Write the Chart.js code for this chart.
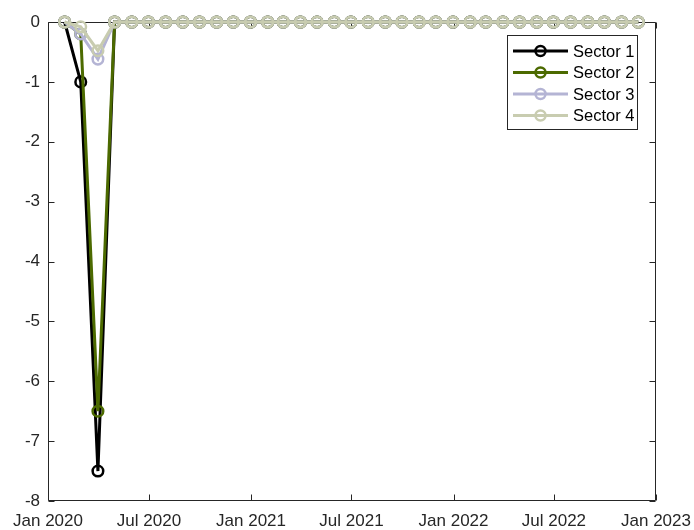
<!DOCTYPE html>
<html>
<head>
<meta charset="utf-8">
<script src="https://cdn.jsdelivr.net/npm/chart.js@4.4.1/dist/chart.umd.min.js"></script>
<style>
html,body{margin:0;padding:0;background:#fff;}
#c{display:block;}
</style>
</head>
<body>
<canvas id="c" width="694" height="530"></canvas>
<script>
const dates = ["2020-01-31","2020-02-29","2020-03-31","2020-04-30","2020-05-31","2020-06-30","2020-07-31","2020-08-31","2020-09-30","2020-10-31","2020-11-30","2020-12-31",
"2021-01-31","2021-02-28","2021-03-31","2021-04-30","2021-05-31","2021-06-30","2021-07-31","2021-08-31","2021-09-30","2021-10-31","2021-11-30","2021-12-31",
"2022-01-31","2022-02-28","2022-03-31","2022-04-30","2022-05-31","2022-06-30","2022-07-31","2022-08-31","2022-09-30","2022-10-31","2022-11-30"];
const sector1 = [0,-1,-7.5,0,0,0,0,0,0,0,0,0,0,0,0,0,0,0,0,0,0,0,0,0,0,0,0,0,0,0,0,0,0,0,0];
const sector2 = [0,-0.2,-6.5,0,0,0,0,0,0,0,0,0,0,0,0,0,0,0,0,0,0,0,0,0,0,0,0,0,0,0,0,0,0,0,0];
const sector3 = [0,-0.2,-0.62,0,0,0,0,0,0,0,0,0,0,0,0,0,0,0,0,0,0,0,0,0,0,0,0,0,0,0,0,0,0,0,0];
const sector4 = [0,-0.08,-0.48,0,0,0,0,0,0,0,0,0,0,0,0,0,0,0,0,0,0,0,0,0,0,0,0,0,0,0,0,0,0,0,0];
const seriesNames = ["Sector 1","Sector 2","Sector 3","Sector 4"];
const seriesColors = ["#000000","#4c6a00","#b4b4d4","#c8ccb0"];
const tickDates = ["2020-01-01","2020-07-01","2021-01-01","2021-07-01","2022-01-01","2022-07-01","2023-01-01"];
const tickLabels = ["Jan 2020","Jul 2020","Jan 2021","Jul 2021","Jan 2022","Jul 2022","Jan 2023"];
const yTicks = [-8,-7,-6,-5,-4,-3,-2,-1,0];

const DAY = 86400000, BASE = Date.UTC(2020,0,1);
function dayOf(s){ const p = s.split('-').map(Number); return (Date.UTC(p[0],p[1]-1,p[2]) - BASE)/DAY; }
const tickDays = tickDates.map(dayOf);

const allSeries = [sector1, sector2, sector3, sector4];
const datasets = allSeries.map((vals, k) => ({
  label: seriesNames[k],
  data: dates.map((d, i) => ({x: dayOf(d), y: vals[i]})),
  borderColor: seriesColors[k],
  pointBorderColor: seriesColors[k],
  pointBackgroundColor: 'rgba(0,0,0,0)',
  borderWidth: 3,
  pointRadius: 5.3,
  pointBorderWidth: 2.5,
  pointHoverRadius: 5.3,
  tension: 0,
  clip: false,
  order: 3 - k
}));

const AX = '#262626';
const FONT = {family: '"Liberation Sans", Arial, sans-serif', size: 17};

const boxPlugin = {
  id: 'box',
  beforeDatasetsDraw(chart) {
    const {ctx, chartArea: a, scales} = chart;
    ctx.save();
    ctx.strokeStyle = AX;
    ctx.lineWidth = 1;
    const L = Math.round(a.left)+0.5, R = Math.round(a.right)-0.5, T = Math.round(a.top)+0.5, B = Math.round(a.bottom)-0.5;
    ctx.beginPath();
    ctx.rect(L, T, R-L, B-T);
    const tl = 6;
    tickDays.forEach(v => {
      const x = Math.round(scales.x.getPixelForValue(v))+0.5;
      ctx.moveTo(x, B); ctx.lineTo(x, B-tl);
      ctx.moveTo(x, T); ctx.lineTo(x, T+tl);
    });
    yTicks.forEach(v => {
      const y = Math.round(scales.y.getPixelForValue(v))+0.5;
      ctx.moveTo(L, y); ctx.lineTo(L+tl, y);
      ctx.moveTo(R, y); ctx.lineTo(R-tl, y);
    });
    ctx.stroke();
    ctx.restore();
  }
};

const legendPlugin = {
  id: 'mlegend',
  afterDatasetsDraw(chart) {
    const ctx = chart.ctx;
    const x0 = 507, y0 = 35, w = 131, h = 95;
    ctx.save();
    ctx.fillStyle = '#fff';
    ctx.fillRect(x0, y0, w, h);
    ctx.strokeStyle = AX;
    ctx.lineWidth = 1;
    ctx.strokeRect(x0+0.5, y0+0.5, w-1, h-1);
    ctx.font = '16.5px "Liberation Sans", Arial, sans-serif';
    ctx.textBaseline = 'middle';
    ctx.textAlign = 'left';
    seriesNames.forEach((name, k) => {
      const y = y0 + 16 + k*21.5;
      ctx.strokeStyle = seriesColors[k];
      ctx.lineWidth = 3;
      ctx.beginPath(); ctx.moveTo(x0+6, y); ctx.lineTo(x0+61, y); ctx.stroke();
      ctx.lineWidth = 2.5;
      ctx.beginPath(); ctx.arc(x0+33.5, y, 5, 0, Math.PI*2); ctx.stroke();
      ctx.fillStyle = '#000';
      ctx.fillText(name, x0+66, y+1);
    });
    ctx.restore();
  }
};

new Chart(document.getElementById('c'), {
  type: 'line',
  data: {datasets},
  options: {
    responsive: false,
    animation: false,
    devicePixelRatio: 1,
    layout: {padding: {top: 22, right: 38, left: 0, bottom: 0}},
    plugins: {legend: {display: false}, tooltip: {enabled: false}},
    scales: {
      x: {
        type: 'linear',
        min: tickDays[0],
        max: tickDays[tickDays.length-1],
        afterBuildTicks(s) { s.ticks = tickDays.map(v => ({value: v})); },
        afterFit(s) { s.height = 29; s.paddingLeft = 0; s.paddingRight = 0; },
        ticks: {
          autoSkip: false, maxRotation: 0, minRotation: 0,
          color: AX, font: FONT, padding: 10,
          callback(v) { const i = tickDays.indexOf(v); return i >= 0 ? tickLabels[i] : ''; }
        },
        grid: {display: false, drawTicks: false},
        border: {display: false}
      },
      y: {
        min: -8, max: 0,
        afterBuildTicks(s) { s.ticks = yTicks.map(v => ({value: v})); },
        afterFit(s) { s.width = 48; s.paddingTop = 0; s.paddingBottom = 0; },
        ticks: {color: AX, font: FONT, padding: 8},
        grid: {display: false, drawTicks: false},
        border: {display: false}
      }
    }
  },
  plugins: [boxPlugin, legendPlugin]
});
</script>
</body>
</html>
